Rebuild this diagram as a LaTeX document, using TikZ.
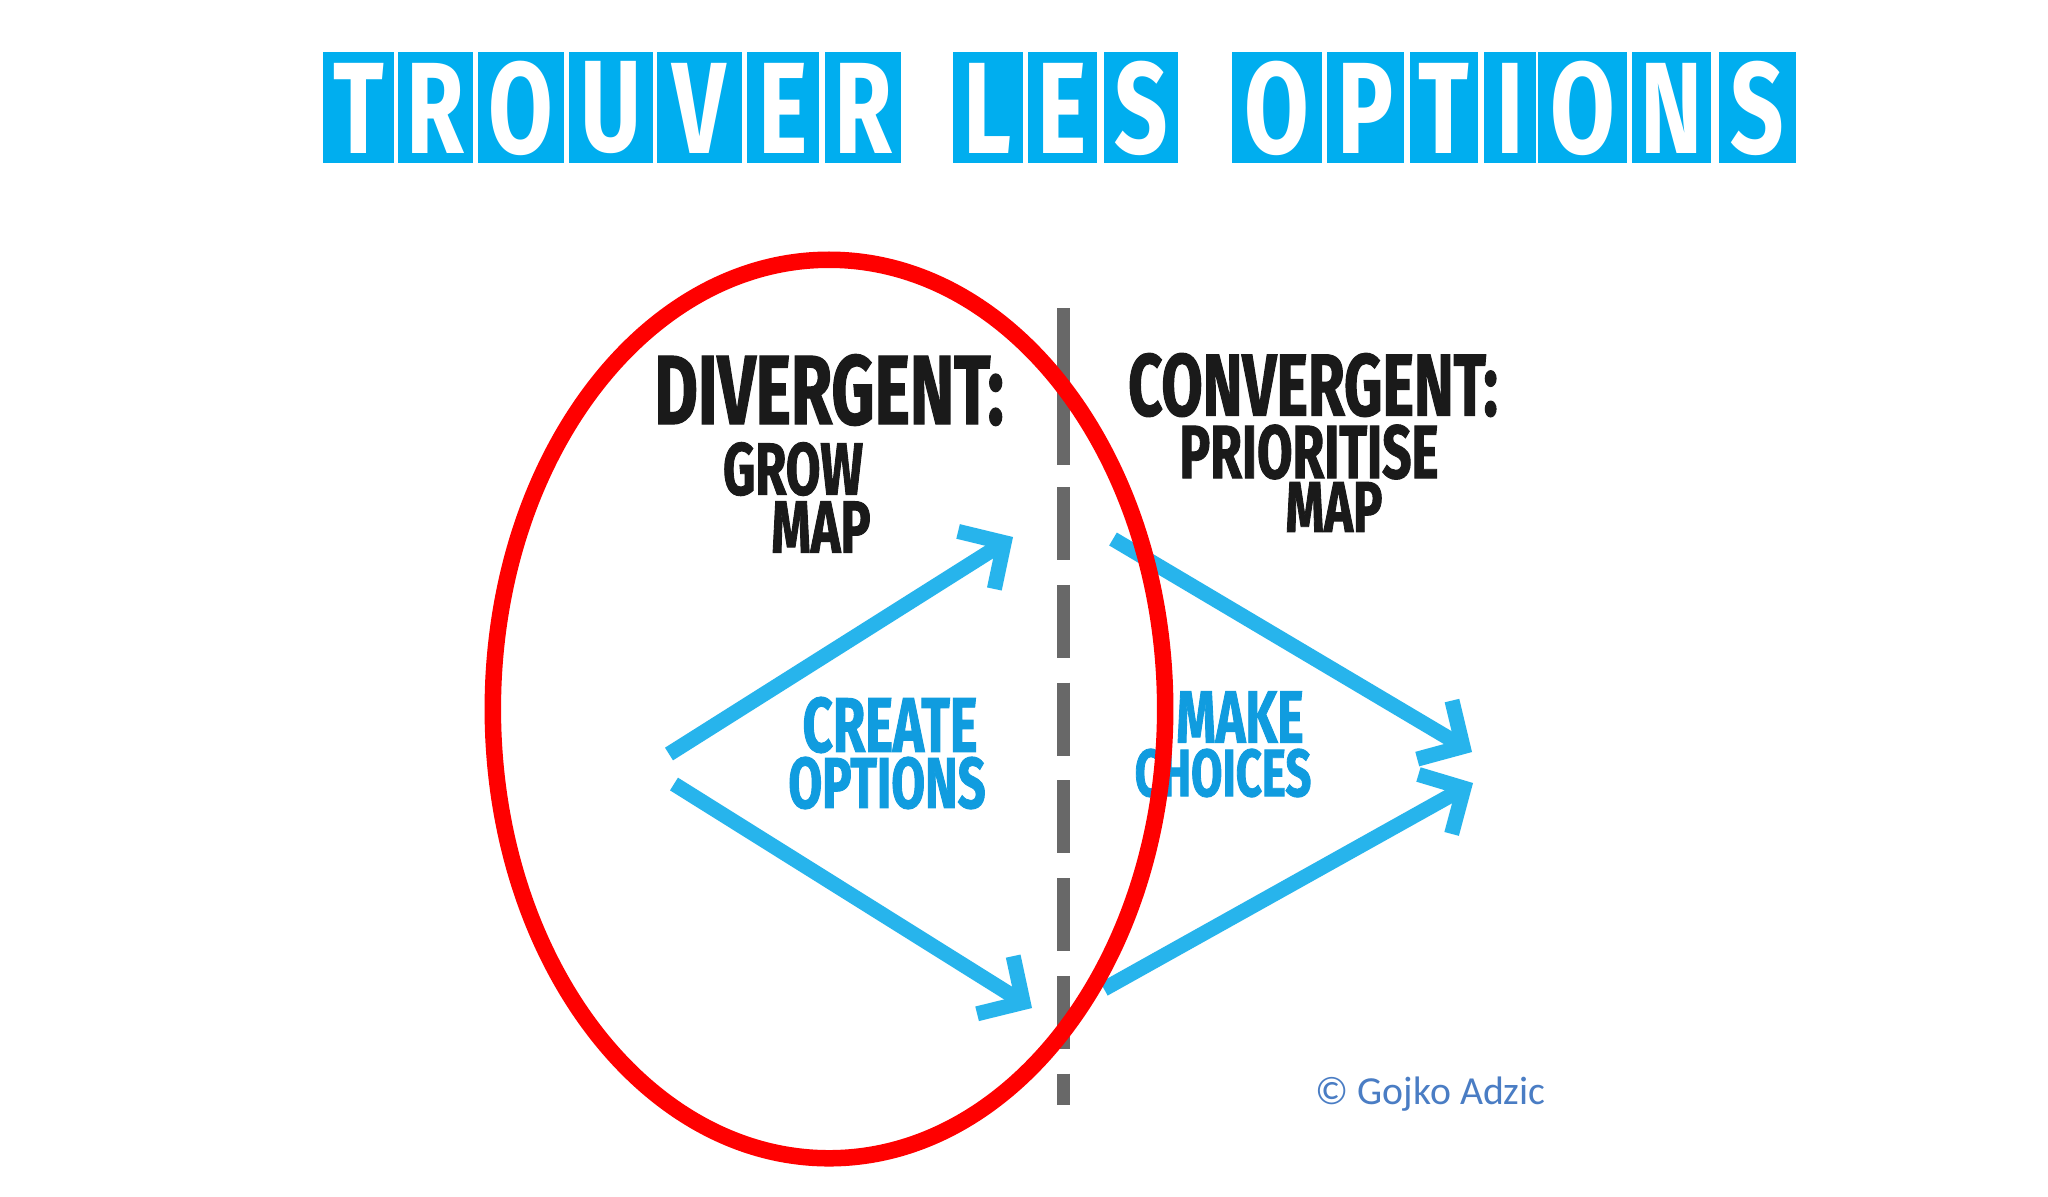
\documentclass[tikz,border=0pt]{standalone}
\usepackage{fontspec}
\usetikzlibrary{arrows.meta}
\newfontfamily\markerfont[FakeStretch=0.68,FakeBold=1.2]{Fira Sans}
\newfontfamily\titlefont[FakeStretch=0.72]{Fira Sans}
\newfontfamily\notefont{Carlito}
\definecolor{titleblue}{HTML}{00AEEF}
\definecolor{arrowblue}{HTML}{27B4EC}
\definecolor{textblue}{HTML}{109CDF}
\definecolor{inkred}{HTML}{FF0000}
\definecolor{inkgray}{HTML}{686868}
\definecolor{inkblack}{HTML}{1A1A1A}
\definecolor{noteblue}{HTML}{4A7DC4}

\begin{document}
\begin{tikzpicture}[x=0.01cm,y=-0.01cm,
  marker/.style={inner sep=0pt,text=inkblack},
  bluemarker/.style={marker,text=textblue},
  letter/.style={inner sep=0pt,text=white,font=\titlefont\bfseries\fontsize{37}{40}\selectfont},
  flow/.style={arrowblue,line width=1.5mm,
    -{Straight Barb[length=3.3mm,width=6.8mm,line cap=butt,line join=miter]}},
  divider/.style={inkgray,line width=1.3mm}]
\useasboundingbox[fill=white] (0,0) rectangle (2048,1196);

%% title
\foreach \ch/\xl/\xr in {T/323/394,R/398/473,O/478/564,U/569/653,V/657/742,E/747/819,R/825/901,
  L/953/1023,E/1028/1097,S/1104/1178,
  O/1232/1322,P/1327/1404,T/1410/1478,I/1484/1536,O/1538/1627,N/1632/1711,S/1719/1796}{
  \fill[titleblue] (\xl,52) rectangle (\xr,163);
  \node[letter] (title-\xl) at ({(\xl+\xr)/2},108) {\ch};
}

%% divergent side
\node[marker,font=\markerfont\bfseries\fontsize{28}{30}\selectfont] (div) at (829,390) {DIVERGENT:};
\node[marker,font=\markerfont\bfseries\fontsize{21}{24}\selectfont] (grow) at (793,469) {GROW};
\node[marker,font=\markerfont\bfseries\fontsize{21}{24}\selectfont] (growmap) at (821,527) {MAP};
\node[bluemarker,font=\markerfont\bfseries\fontsize{22}{25}\selectfont] (create) at (890,725) {CREATE};
\node[bluemarker,font=\markerfont\bfseries\fontsize{20.5}{23}\selectfont] (options) at (887,783) {OPTIONS};

%% convergent side
\node[marker,font=\markerfont\bfseries\fontsize{25}{27}\selectfont] (conv) at (1313,385) {CONVERGENT:};
\node[marker,font=\markerfont\bfseries\fontsize{21.5}{24}\selectfont] (prio) at (1309,452) {PRIORITISE};
\node[marker,font=\markerfont\bfseries\fontsize{20.5}{23}\selectfont] (priomap) at (1334,507) {MAP};
\node[bluemarker,font=\markerfont\bfseries\fontsize{21}{24}\selectfont] (make) at (1240,717) {MAKE};
\node[bluemarker,font=\markerfont\bfseries\fontsize{19}{22}\selectfont] (choices) at (1223,773) {CHOICES};

\node[anchor=base west,inner sep=0pt,text=noteblue,font=\notefont\fontsize{11.3}{13}\selectfont] (credit) at (1315,1104) {© Gojko Adzic};

%% dashed cut
\coordinate (cut-top) at (1063,308);
\coordinate (cut-mid) at (1063,465);
\coordinate (cut-dash) at (1063,487);
\coordinate (cut-bot) at (1063,1105);
\draw[divider] (cut-top) -- (cut-mid);
\draw[divider,dash pattern=on 7.3mm off 2.47mm] (cut-dash) -- (cut-bot);

%% arrows
\coordinate (out-start) at (669,754);
\coordinate (out-up) at (1013,537);
\coordinate (out-low-start) at (674,784);
\coordinate (out-down) at (1032,1008);
\coordinate (in-up) at (1113,539);
\coordinate (in-low) at (1104,989);
\coordinate (in-end) at (1472,752);
\coordinate (in-low-end) at (1473,783);
\draw[flow] (out-start) -- (out-up);
\draw[flow] (out-low-start) -- (out-down);
\draw[flow] (in-up) -- (in-end);
\draw[flow] (in-low) -- (in-low-end);

%% focus ring
\draw[inkred,line width=1.65mm] (829,709) ellipse [x radius=3.36cm,y radius=4.49cm];

\end{tikzpicture}
\end{document}
